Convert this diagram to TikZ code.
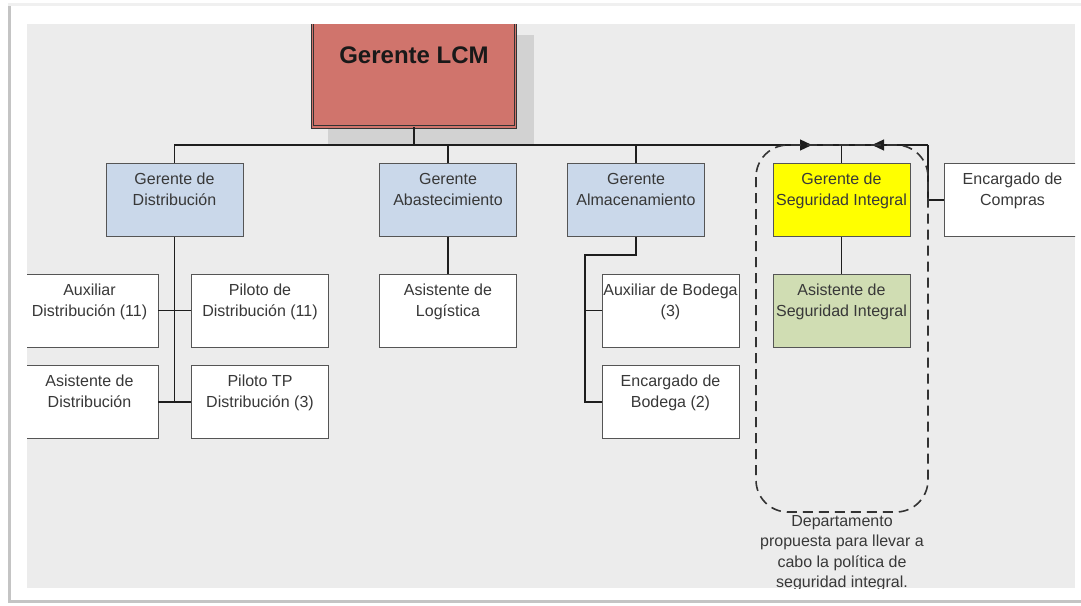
\documentclass[tikz,border=0pt]{standalone}
\usepackage{fontspec}
\setmainfont{Liberation Sans}
\usetikzlibrary{arrows.meta}

\definecolor{pagebg}{HTML}{ECECEC}
\definecolor{edgeshade}{HTML}{C4C4C4}
\definecolor{boxline}{HTML}{555555}
\definecolor{boxtext}{HTML}{383838}
\definecolor{linecol}{HTML}{1E1E1E}
\definecolor{lcmfill}{HTML}{D0746C}
\definecolor{lcmshade}{HTML}{D2D2D2}
\definecolor{bluefill}{HTML}{CAD8EA}
\definecolor{greenfill}{HTML}{D0DDB3}
\definecolor{yellowfill}{HTML}{FFFF00}

% box text: hangs from the top edge, centred
\newcommand\boxfont{\fontsize{16}{21}\selectfont}
\newcommand\bx[1]{\parbox[c][73pt][t]{137pt}{\centering\rule{0pt}{21pt}#1}}

\tikzset{
  orgbox/.style={draw=boxline, line width=0.9pt, inner sep=0pt,
    minimum width=137pt, minimum height=73pt, fill=white,
    font=\boxfont, text=boxtext},
  bluebox/.style={orgbox, fill=bluefill},
  lcmbox/.style={draw=black!80, line width=0.8pt, double=lcmfill,
    double distance=1.6pt, fill=lcmfill, inner sep=0pt,
    minimum width=203pt, minimum height=144pt,
    font=\fontsize{24}{28}\bfseries, text=black!90},
  conn/.style={draw=linecol, line width=1.3pt},
  tipR/.style={-{Triangle[length=12pt,width=11pt]}},
  grp/.style={draw=black!80, line width=1.6pt, dash pattern=on 10pt off 6pt,
    rounded corners=32pt},
  notetext/.style={font=\fontsize{16}{20.4}\selectfont, text=boxtext,
    align=center, inner sep=0pt, anchor=north}
}

\begin{document}
\begin{tikzpicture}[x=1pt,y=-1pt]
\useasboundingbox (0,0) rectangle (1081,605);

% sheet with its edge shadow
\fill[white] (0,0) rectangle (1081,605);
\fill[edgeshade] (8,5) rectangle (11,603);
\fill[edgeshade] (8,600) rectangle (1081,603);
\fill[gray!12] (8,3) rectangle (1081,6);
\fill[white] (11,6) rectangle (1081,600);
\fill[pagebg] (27,24) rectangle (1075,588);

\begin{scope}
\clip (27,24) rectangle (1075,588);

% top position
\fill[lcmshade] (328,35) rectangle (534,145);
\node[lcmbox] (lcm) at (414,55) {Gerente LCM};

% first level
\node[bluebox] (dist) at (174.5,200) {\bx{Gerente de\\Distribución}};
\node[bluebox] (abas) at (448,200)   {\bx{Gerente\\Abastecimiento}};
\node[bluebox] (alma) at (636,200)   {\bx{Gerente\\Almacenamiento}};
\node[orgbox, fill=yellowfill] (seg) at (841.5,200) {\bx{Gerente de\\Seguridad Integral}};
\node[orgbox] (comp) at (1012.5,200) {\bx{Encargado de\\Compras}};

% second level
\node[orgbox] (auxd) at (89.5,310.5)  {\bx{Auxiliar\\Distribución (11)}};
\node[orgbox] (pild) at (260,310.5)   {\bx{Piloto de\\Distribución (11)}};
\node[orgbox] (asil) at (448,310.5)   {\bx{Asistente de\\Logística}};
\node[orgbox] (auxb) at (670.5,310.5) {\bx{Auxiliar de Bodega\\(3)}};
\node[orgbox, fill=greenfill] (aseg) at (841.5,310.5) {\bx{Asistente de\\Seguridad Integral}};

% third level
\node[orgbox] (asid) at (89.5,402)  {\bx{Asistente de\\Distribución}};
\node[orgbox] (ptp)  at (260,402)   {\bx{Piloto TP\\Distribución (3)}};
\node[orgbox] (encb) at (670.5,402) {\bx{Encargado de\\Bodega (2)}};

% connector junctions
\coordinate (jn)   at (414,145);
\coordinate (arrR) at (812,145);
\coordinate (ret)  at (928,145);
\coordinate (arrL) at (872,145);
\coordinate (almk) at (585,255);

% connectors
\draw[conn] (lcm.south) -- (jn);
\draw[conn] (jn) -| (dist.north);
\draw[conn] (abas.north) -- (abas.north |- jn);
\draw[conn] (alma.north) -- (alma.north |- jn);
\draw[conn, tipR] (jn) -- (arrR);
\draw[conn] (arrR) -- (ret);
\draw[conn, tipR] (ret) -- (arrL);
\draw[conn] (seg.north) -- (seg.north |- jn);
\draw[conn] (ret) |- (comp.west);
\draw[conn] (seg.south) -- (aseg.north);

\draw[conn] (dist.south) -- (dist.south |- asid.east);
\draw[conn] (auxd.east) -- (pild.west);
\draw[conn] (asid.east) -- (ptp.west);

\draw[conn] (abas.south) -- (asil.north);

\draw[conn] (alma.south) |- (almk) |- (encb.west);
\draw[conn] (almk) |- (auxb.west);

% proposed department
\draw[grp] (756,145) rectangle (928,512);
\node[notetext] (note) at (842,515)
  {Departamento\\propuesta para llevar a\\cabo la política de\\seguridad integral.};
\end{scope}
\end{tikzpicture}
\end{document}
